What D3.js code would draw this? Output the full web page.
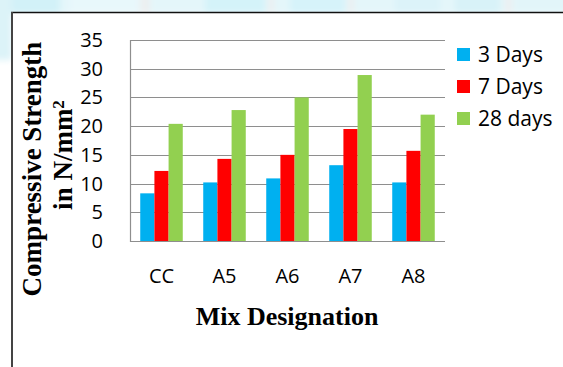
<!DOCTYPE html>
<html>
<head>
<meta charset="utf-8">
<script src="https://cdn.jsdelivr.net/npm/d3@7"></script>
<style>
  html, body { margin: 0; padding: 0; background: #fff; }
  svg { display: block; }
</style>
</head>
<body>
<svg id="chart" width="563" height="367"></svg>
<script>
// Mix designations along the x axis
const categories = ["CC", "A5", "A6", "A7", "A8"];
// Curing ages shown in the legend
const seriesNames = ["3 Days", "7 Days", "28 days"];
// Compressive strength (N/mm²) per curing age
const days3 = [8.3, 10.2, 10.9, 13.2, 10.2];
const days7 = [12.2, 14.3, 15.0, 19.5, 15.7];
const days28 = [20.4, 22.8, 25.0, 28.9, 22.0];
const yTicks = [0, 5, 10, 15, 20, 25, 30, 35];

const colors = ["#00b0f0", "#ff0000", "#92d050"];
const seriesValues = [days3, days7, days28];

const svg = d3.select("#chart");

// soft page backdrop behind the framed figure
const defs = svg.append("defs");
defs.append("filter").attr("id", "soft")
  .attr("x", "-20%").attr("y", "-50%").attr("width", "140%").attr("height", "200%")
  .append("feGaussianBlur").attr("stdDeviation", 3);
const bg = svg.append("g").attr("filter", "url(#soft)");
bg.append("rect").attr("x", -10).attr("y", -10).attr("width", 600).attr("height", 24).attr("fill", "#e4f6fa");
const bands = [[-10, 60, "#d2f1f8"], [70, 140, "#e8f8fb"], [205, 265, "#d4f3f9"], [290, 345, "#d6f3fa"],
  [395, 440, "#dcf3f9"], [455, 500, "#d8f2f8"], [515, 570, "#e2f5f9"]];
bands.forEach(b => bg.append("rect").attr("x", b[0]).attr("y", -10).attr("width", b[1] - b[0]).attr("height", 24).attr("fill", b[2]));
[[140, 150], [268, 274], [348, 354], [505, 512]].forEach(s =>
  bg.append("rect").attr("x", s[0]).attr("y", -10).attr("width", s[1] - s[0]).attr("height", 24).attr("fill", "#eceff0"));
bg.append("rect").attr("x", -10).attr("y", -10).attr("width", 22).attr("height", 70).attr("fill", "#dcf3f8");

// white figure panel with its frame
svg.append("rect").attr("x", 12).attr("y", 12).attr("width", 560).attr("height", 370).attr("fill", "#fff");
svg.append("line").attr("x1", 11).attr("x2", 563).attr("y1", 12.5).attr("y2", 12.5)
  .attr("stroke", "#111").attr("stroke-width", 1.6);
svg.append("line").attr("x1", 12).attr("x2", 12).attr("y1", 12).attr("y2", 367)
  .attr("stroke", "#444").attr("stroke-width", 2);

const plot = { left: 130, right: 445, top: 40, bottom: 241 };

const x = d3.scaleBand().domain(categories).range([plot.left, plot.right])
  .paddingInner(0.325).paddingOuter(0.1625);
const xs = d3.scaleBand().domain(seriesNames).range([0, x.bandwidth()]);
const y = d3.scaleLinear().domain([0, 35]).range([plot.bottom, plot.top]);

// horizontal gridlines
svg.append("g").selectAll("line").data(yTicks).join("line")
  .attr("x1", plot.left).attr("x2", plot.right)
  .attr("y1", d => Math.round(y(d)) + 0.5).attr("y2", d => Math.round(y(d)) + 0.5)
  .attr("stroke", "#8e8e8e").attr("stroke-width", 1.2);
// vertical axis line
svg.append("line").attr("x1", plot.left + 0.5).attr("x2", plot.left + 0.5)
  .attr("y1", y(35)).attr("y2", y(0) + 1)
  .attr("stroke", "#8e8e8e").attr("stroke-width", 1.2);

// y tick labels
svg.append("g").selectAll("text").data(yTicks).join("text")
  .attr("x", 103).attr("y", d => y(d)).attr("dy", "0.35em")
  .attr("text-anchor", "end")
  .style("font-family", "'Open Sans', sans-serif").style("font-size", "20px").attr("fill", "#000")
  .text(d => d);

// bars
const groups = svg.append("g").selectAll("g").data(seriesNames).join("g")
  .attr("fill", (d, i) => colors[i]);
groups.selectAll("rect").data((s, i) => categories.map((c, j) => ({ c, s, v: seriesValues[i][j] })))
  .join("rect")
  .attr("x", d => x(d.c) + xs(d.s))
  .attr("width", xs.bandwidth())
  .attr("y", d => y(d.v))
  .attr("height", d => y(0) - y(d.v));

// category labels
svg.append("g").selectAll("text").data(categories).join("text")
  .attr("x", d => x(d) + x.bandwidth() / 2).attr("y", 283)
  .attr("text-anchor", "middle")
  .style("font-family", "'Open Sans', sans-serif").style("font-size", "20px").attr("fill", "#000")
  .text(d => d);

// x axis title
svg.append("text").attr("x", 287).attr("y", 325).attr("text-anchor", "middle")
  .style("font-family", "'Liberation Serif', 'Times New Roman', serif")
  .style("font-size", "26px").style("font-weight", "bold").attr("fill", "#000")
  .text("Mix Designation");

// y axis title, two lines
const yTitle = svg.append("g").style("font-family", "'Liberation Serif', 'Times New Roman', serif")
  .style("font-weight", "bold").attr("fill", "#000");
yTitle.append("text").attr("transform", "translate(41,169) rotate(-90)")
  .attr("text-anchor", "middle").style("font-size", "27px")
  .text("Compressive Strength");
const l2 = yTitle.append("text").attr("transform", "translate(72,155) rotate(-90)")
  .attr("text-anchor", "middle").style("font-size", "27px");
l2.append("tspan").text("in N/mm");
l2.append("tspan").attr("dy", "-0.45em").style("font-size", "17px").text("2");

// legend
const legend = svg.append("g").selectAll("g").data(seriesNames).join("g")
  .attr("transform", (d, i) => `translate(457,${54.5 + i * 32})`);
legend.append("rect").attr("x", 0).attr("y", -6.5).attr("width", 13).attr("height", 13)
  .attr("fill", (d, i) => colors[i]);
legend.append("text").attr("x", 21).attr("y", 0).attr("dy", "0.36em")
  .style("font-family", "'Open Sans', sans-serif").style("font-size", "21px").attr("fill", "#000")
  .text(d => d);
</script>
</body>
</html>
